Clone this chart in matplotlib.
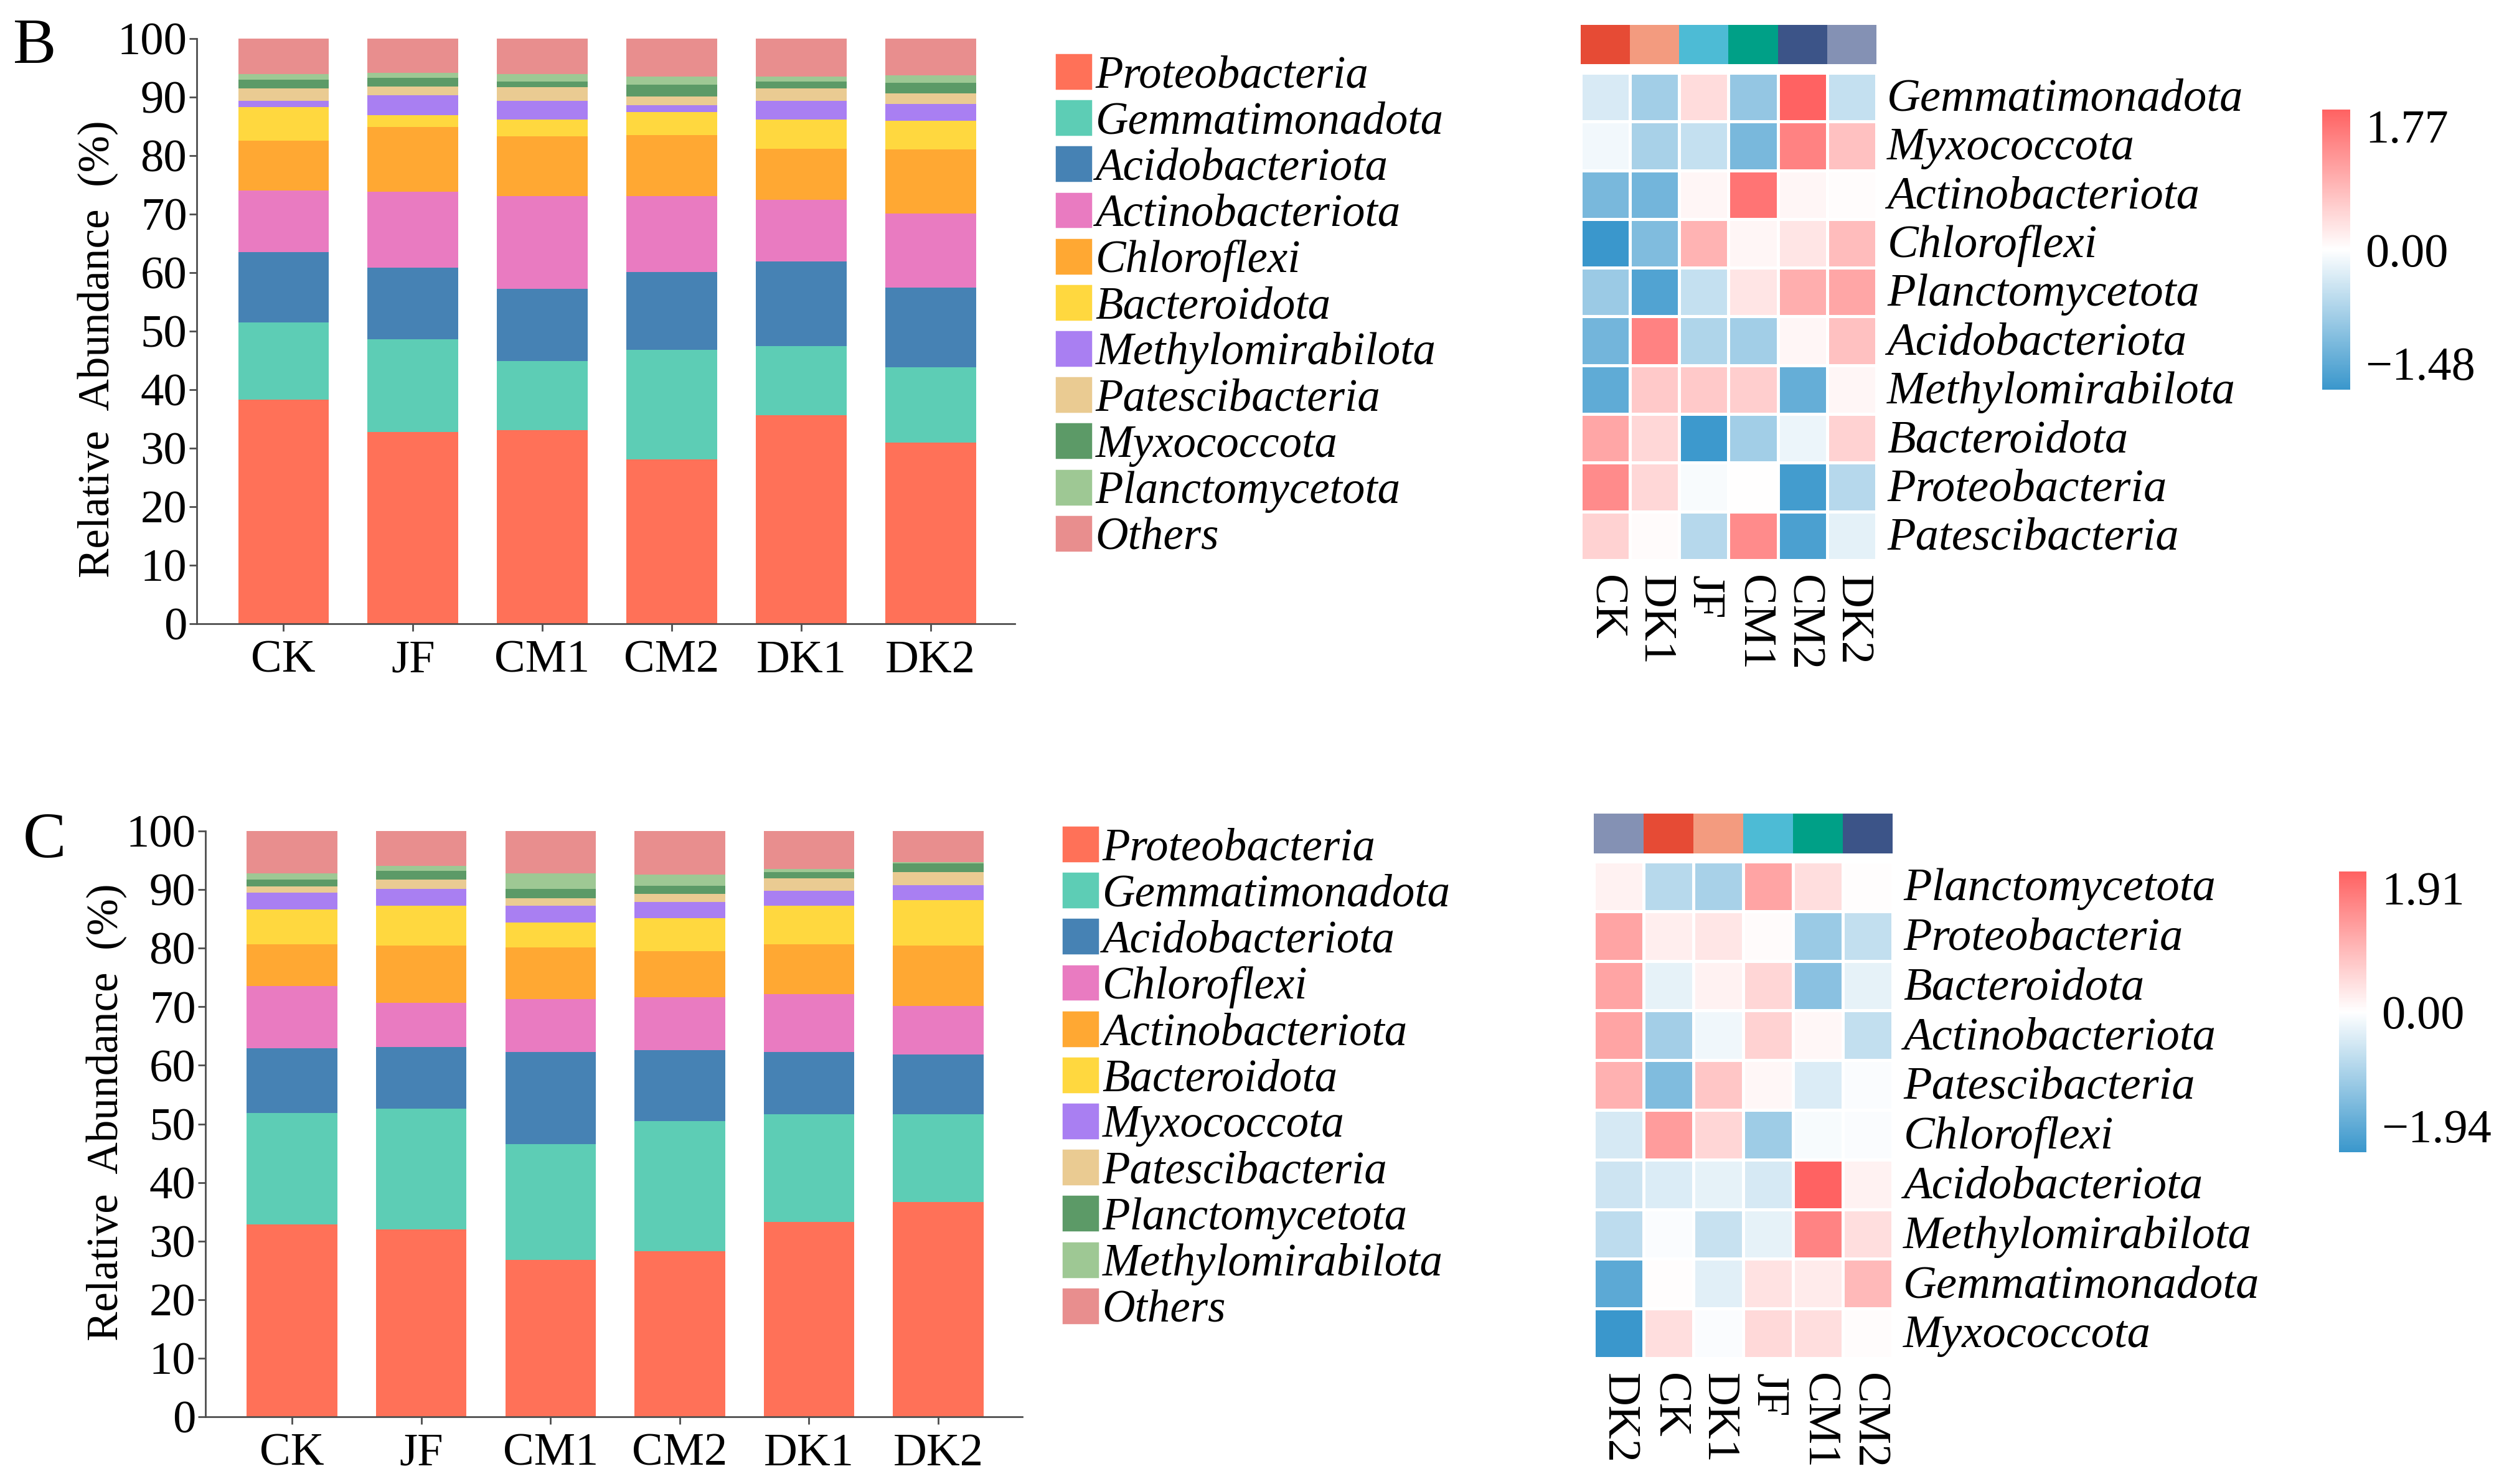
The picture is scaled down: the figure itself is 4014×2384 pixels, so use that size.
import numpy as np
import matplotlib
matplotlib.use('Agg')
import matplotlib.pyplot as plt
from matplotlib.colors import LinearSegmentedColormap, TwoSlopeNorm, ListedColormap
from matplotlib.patches import Patch

plt.rcParams['font.family'] = 'serif'
plt.rcParams['font.serif'] = ['Liberation Serif', 'DejaVu Serif']
plt.rcParams['font.size'] = 21

samples = ['CK', 'JF', 'CM1', 'CM2', 'DK1', 'DK2']

# ---- panel B, stacked bars (%), bottom -> top
taxa_b = ['Proteobacteria', 'Gemmatimonadota', 'Acidobacteriota', 'Actinobacteriota',
          'Chloroflexi', 'Bacteroidota', 'Methylomirabilota', 'Patescibacteria',
          'Myxococcota', 'Planctomycetota', 'Others']
abund_b = [
    [38.3, 32.8, 33.1, 28.1, 35.6, 31.0],
    [13.2, 15.8, 11.8, 18.7, 11.8, 12.8],
    [12.0, 12.2, 12.3, 13.3, 14.5, 13.6],
    [10.5, 13.0, 15.9, 13.0, 10.5, 12.7],
    [8.6, 11.1, 10.2, 10.4, 8.8, 11.0],
    [5.7, 2.0, 2.9, 3.9, 5.0, 4.9],
    [1.1, 3.4, 3.2, 1.2, 3.2, 2.8],
    [2.1, 1.5, 2.3, 1.5, 2.1, 1.8],
    [1.5, 1.5, 1.0, 2.0, 1.2, 1.8],
    [0.9, 0.8, 1.2, 1.4, 0.8, 1.3],
    [6.1, 5.9, 6.1, 6.5, 6.5, 6.3],
]

# ---- panel C, stacked bars (%), bottom -> top
taxa_c = ['Proteobacteria', 'Gemmatimonadota', 'Acidobacteriota', 'Chloroflexi',
          'Actinobacteriota', 'Bacteroidota', 'Myxococcota', 'Patescibacteria',
          'Planctomycetota', 'Methylomirabilota', 'Others']
abund_c = [
    [32.8, 32.0, 26.8, 28.3, 33.3, 36.7],
    [19.1, 20.6, 19.7, 22.2, 18.3, 15.0],
    [11.0, 10.5, 15.8, 12.1, 10.7, 10.1],
    [10.6, 7.6, 9.0, 9.0, 9.9, 8.3],
    [7.2, 9.7, 8.8, 7.9, 8.5, 10.3],
    [5.9, 6.9, 4.3, 5.6, 6.5, 7.8],
    [2.9, 2.8, 2.8, 2.8, 2.6, 2.6],
    [1.0, 1.6, 1.3, 1.4, 2.1, 2.2],
    [1.2, 1.5, 1.6, 1.4, 1.1, 1.5],
    [1.1, 0.9, 2.7, 1.9, 0.5, 0.2],
    [7.2, 5.9, 7.2, 7.4, 6.5, 5.3],
]

bar_colors = ['#FF7158', '#5DCDB5', '#4682B4', '#E97BC1', '#FFA833', '#FFD83F',
              '#A97FF2', '#EACB92', '#5C9A67', '#9EC894', '#E88E8E']

# ---- heatmaps (z-scores)
hm_cols_b = ['CK', 'DK1', 'JF', 'CM1', 'CM2', 'DK2']
hm_rows_b = ['Gemmatimonadota', 'Myxococcota', 'Actinobacteriota', 'Chloroflexi',
             'Planctomycetota', 'Acidobacteriota', 'Methylomirabilota', 'Bacteroidota',
             'Proteobacteria', 'Patescibacteria']
hm_b = [
    [-0.30, -0.70, 0.40, -0.80, 1.77, -0.45],
    [-0.10, -0.65, -0.45, -1.00, 1.40, 0.70],
    [-1.00, -1.05, 0.10, 1.55, 0.10, 0.03],
    [-1.48, -0.95, 0.85, 0.10, 0.30, 0.75],
    [-0.75, -1.30, -0.45, 0.30, 0.90, 1.00],
    [-1.05, 1.40, -0.60, -0.70, 0.10, 0.70],
    [-1.20, 0.60, 0.60, 0.55, -1.15, 0.10],
    [1.00, 0.45, -1.45, -0.70, -0.15, 0.50],
    [1.30, 0.45, -0.05, 0.00, -1.40, -0.55],
    [0.50, 0.05, -0.55, 1.30, -1.35, -0.20],
]
hm_min_b, hm_max_b = -1.48, 1.77

hm_cols_c = ['DK2', 'CK', 'DK1', 'JF', 'CM1', 'CM2']
hm_rows_c = ['Planctomycetota', 'Proteobacteria', 'Bacteroidota', 'Actinobacteriota',
             'Patescibacteria', 'Chloroflexi', 'Acidobacteriota', 'Methylomirabilota',
             'Gemmatimonadota', 'Myxococcota']
hm_c = [
    [0.15, -0.70, -0.85, 1.10, 0.40, 0.02],
    [1.10, 0.20, 0.30, 0.05, -1.00, -0.60],
    [1.10, -0.25, 0.15, 0.50, -1.15, -0.25],
    [1.10, -0.90, -0.15, 0.55, 0.10, -0.60],
    [0.95, -1.25, 0.70, 0.10, -0.35, -0.05],
    [-0.40, 1.20, 0.50, -0.95, -0.08, -0.05],
    [-0.50, -0.35, -0.25, -0.40, 1.91, 0.15],
    [-0.65, -0.05, -0.55, -0.25, 1.50, 0.40],
    [-1.60, 0.02, -0.30, 0.35, 0.25, 0.85],
    [-1.94, 0.40, -0.05, 0.45, 0.40, 0.03],
]
hm_min_c, hm_max_c = -1.94, 1.91

group_colors = {'CK': '#E64B35', 'DK1': '#F39B7F', 'JF': '#4DBBD5',
                'CM1': '#00A087', 'CM2': '#3C5488', 'DK2': '#8491B4'}

cmap = LinearSegmentedColormap.from_list('bwr_soft', ['#3A97CC', '#FFFFFF', '#FF6262'])

fig = plt.figure(figsize=(16.06, 9.536), dpi=250)
W, H = 4015, 2384


def fbox(x0, y0, x1, y1):
    # pixel box (top-left origin) -> figure rect
    return [x0 / W, 1 - y1 / H, (x1 - x0) / W, (y1 - y0) / H]


def stacked(rect, taxa, abund, legend_xy, label_y):
    ax = fig.add_axes(rect)
    x = np.arange(len(samples))
    bottom = np.zeros(len(samples))
    for name, vals, col in zip(taxa, abund, bar_colors):
        ax.bar(x, vals, 0.7, bottom=bottom, color=col, label=name, linewidth=0)
        bottom += np.array(vals)
    ax.set_xlim(-0.67, 5.65)
    ax.set_ylim(0, 100)
    ax.set_yticks(range(0, 101, 10))
    ax.set_xticks(x)
    ax.set_xticklabels(samples)
    for s in ['top', 'right']:
        ax.spines[s].set_visible(False)
    for s in ['left', 'bottom']:
        ax.spines[s].set_color('#4d4d4d')
        ax.spines[s].set_linewidth(0.8)
    ax.tick_params(length=3.5, width=0.8, color='#4d4d4d', labelsize=21.5)
    ax.tick_params(axis='x', pad=4)
    ax.tick_params(axis='y', pad=1)
    ax.set_ylabel('Relative  Abundance  (%)', fontsize=20.5)
    ax.yaxis.set_label_coords(-0.096, label_y)
    handles = [Patch(color=c, label=t) for t, c in zip(taxa, bar_colors)]
    ax.legend(handles=handles, loc='upper left', bbox_to_anchor=legend_xy,
              bbox_transform=fig.transFigure, frameon=False,
              prop={'family': 'serif', 'style': 'italic', 'size': 21},
              handlelength=0.76, handleheight=0.76, handletextpad=0.1,
              labelspacing=0.08, borderpad=0, borderaxespad=0)
    return ax


def heatmap(rect_hm, rect_ann, rect_cb, data, rows, cols, vmin, vmax):
    ax = fig.add_axes(rect_hm)
    norm = TwoSlopeNorm(vcenter=0, vmin=vmin, vmax=vmax)
    mesh = ax.pcolormesh(np.array(data), cmap=cmap, norm=norm,
                         edgecolors='white', linewidth=1.0)
    ax.set_xlim(0, len(cols))
    ax.set_ylim(len(rows), 0)
    for s in ax.spines.values():
        s.set_visible(False)
    ax.yaxis.tick_right()
    ax.set_yticks(np.arange(len(rows)) + 0.45)
    ax.set_yticklabels(rows, fontstyle='italic', fontsize=21.5)
    ax.set_xticks(np.arange(len(cols)) + 0.5)
    ax.set_xticklabels(cols, rotation=270, ha='center', va='top', fontsize=21.5)
    ax.tick_params(length=0)
    ax.tick_params(axis='y', pad=5)
    ax.tick_params(axis='x', pad=7)

    ax_a = fig.add_axes(rect_ann)
    ax_a.pcolormesh(np.arange(len(cols))[None, :],
                    cmap=ListedColormap([group_colors[c] for c in cols]),
                    edgecolors='none')
    ax_a.set_xlim(0, len(cols))
    ax_a.axis('off')

    cax = fig.add_axes(rect_cb)
    cb = fig.colorbar(mesh, cax=cax, ticks=[vmin, 0, vmax])
    cb.outline.set_visible(False)
    cb.set_ticklabels([f'{vmin:.2f}'.replace('-', '\u2212'), '0.00', f'{vmax:.2f}'])
    cax.tick_params(length=0, pad=7, labelsize=22)
    labs = cax.get_yticklabels()
    labs[0].set_va('bottom')
    labs[2].set_va('top')
    return ax


# panel B
stacked(fbox(316, 62, 1630, 1002), taxa_b, abund_b, (1697 / W, 1 - 88 / H), 0.47)
heatmap(fbox(2539, 117, 3014, 900), fbox(2539, 40, 3014, 103), fbox(3730, 176, 3775, 626),
        hm_b, hm_rows_b, hm_cols_b, hm_min_b, hm_max_b)

# panel C
stacked(fbox(330, 1335, 1642, 2276), taxa_c, abund_c, (1708 / W, 1 - 1329 / H), 0.52)
heatmap(fbox(2560, 1384, 3040, 2182), fbox(2560, 1307, 3040, 1371), fbox(3757, 1400, 3801, 1851),
        hm_c, hm_rows_c, hm_cols_c, hm_min_c, hm_max_c)

fig.text(21 / W, 1 - 76 / H, 'B', fontsize=30, va='center', ha='left')
fig.text(37 / W, 1 - 1352 / H, 'C', fontsize=30, va='center', ha='left')

fig.savefig('out.png', dpi=250, facecolor='white')
